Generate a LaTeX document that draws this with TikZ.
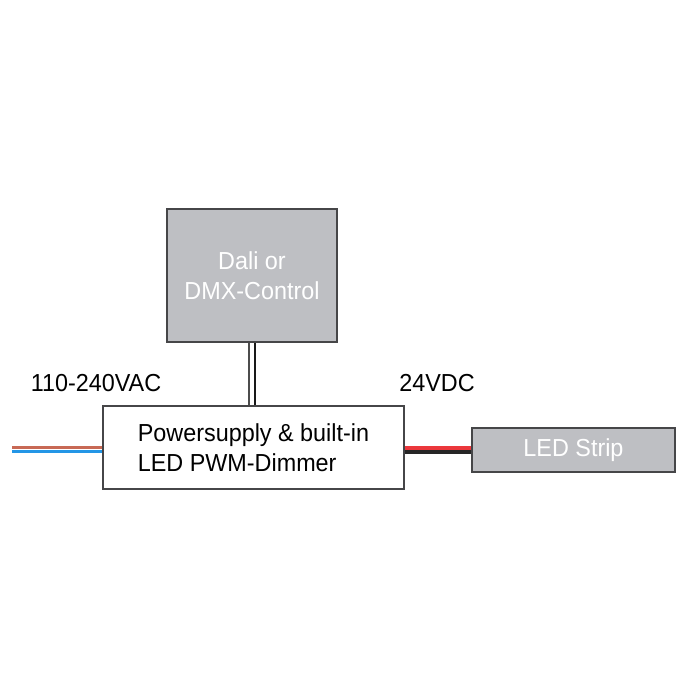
\documentclass[tikz,border=0pt]{standalone}
\usepackage{fontspec}
\setmainfont{Liberation Sans}[FakeStretch=0.95]
\usepackage{xcolor}
\usepackage{tikz}
\definecolor{boxgray}{RGB}{190,191,195}
\definecolor{edgegray}{RGB}{70,70,72}
\definecolor{acred}{RGB}{200,105,85}
\definecolor{acblue}{RGB}{35,150,230}
\definecolor{dcred}{RGB}{235,55,60}
\tikzstyle{graybox} = [draw=edgegray, line width=1.1pt, fill=boxgray, text=white, align=center, inner sep=0pt]
\tikzstyle{whitebox} = [draw=edgegray, line width=1.1pt, fill=white, align=left, inner sep=0pt]
\tikzstyle{wire} = [line width=2.2pt]
\tikzstyle{label} = [inner sep=0pt]

\begin{document}
\begin{tikzpicture}[x=0.025cm, y=-0.025cm, every node/.style={font=\fontsize{17.5}{21}\selectfont}]
		\useasboundingbox (0,0) rectangle (700,700);

		\node (ctrl) [graybox, minimum width=170*0.025cm, minimum height=133*0.025cm] at (252,275.5) {Dali or\\DMX-Control};
		\node (psu) [whitebox, minimum width=301*0.025cm, minimum height=83*0.025cm] at (253.5,447.5) {Powersupply \& built-in\\LED PWM-Dimmer};
		\node (strip) [graybox, minimum width=203*0.025cm, minimum height=44*0.025cm] at (573.5,450) {LED Strip};

		\node (vac) [label] at (96,383) {110-240VAC};
		\node (vdc) [label] at (437,383) {24VDC};

		\coordinate (mains) at (12,449.5);

		% mains in
		\draw [wire, acred] ([yshift=0.045cm]mains) -- ([yshift=0.045cm]mains -| psu.west);
		\draw [wire, acblue] ([yshift=-0.045cm]mains) -- ([yshift=-0.045cm]mains -| psu.west);
		% 24V out
		\draw [wire, dcred] ([yshift=0.05cm]psu.east |- strip.west) -- ([yshift=0.05cm]strip.west);
		\draw [wire, black!85] ([yshift=-0.05cm]psu.east |- strip.west) -- ([yshift=-0.05cm]strip.west);
		% control lines
		\draw [line width=1.6pt, black!70] ([xshift=-0.08cm]ctrl.south) -- ([xshift=-0.08cm]ctrl.south |- psu.north);
		\draw [line width=1.6pt, black!90] ([xshift=0.08cm]ctrl.south) -- ([xshift=0.08cm]ctrl.south |- psu.north);
	\end{tikzpicture}
\end{document}
